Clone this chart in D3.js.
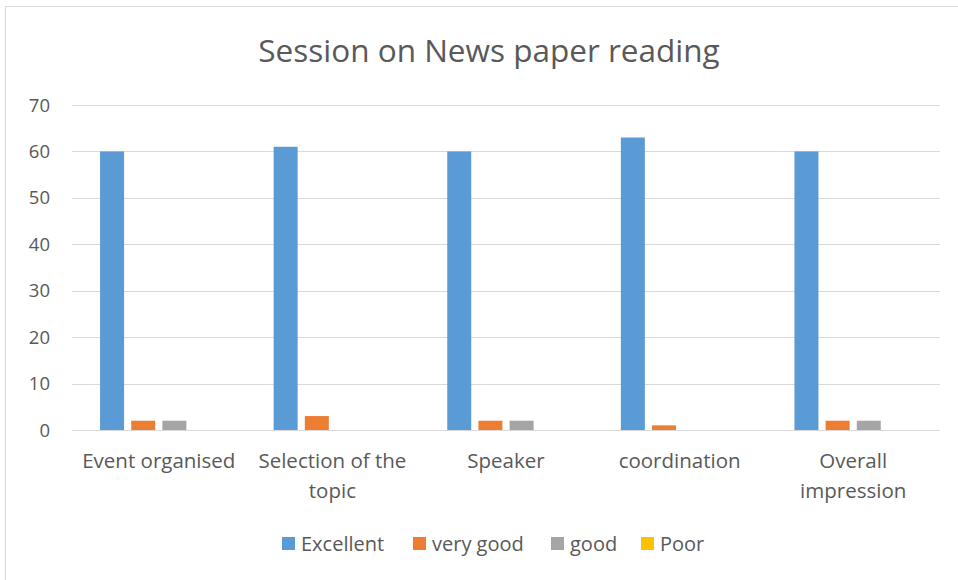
<!DOCTYPE html>
<html>
<head>
<meta charset="utf-8">
<script src="https://cdn.jsdelivr.net/npm/d3@7"></script>
<style>
  body { margin: 0; background: #fff; }
  text { font-family: "Open Sans", "Noto Sans", sans-serif; fill: #595959; }
</style>
</head>
<body>
<div id="chart"></div>
<script>
// Chart data
const categories = [["Event organised"], ["Selection of the", "topic"], ["Speaker"], ["coordination"], ["Overall", "impression"]];
const seriesNames = ["Excellent", "very good", "good", "Poor"];
const seriesColors = ["#5b9bd5", "#ed7d31", "#a5a5a5", "#ffc000"];
const excellent = [60, 61, 60, 63, 60];
const veryGood = [2, 3, 2, 1, 2];
const good = [2, 0, 2, 0, 2];
const poor = [0, 0, 0, 0, 0];
const yTicks = [0, 10, 20, 30, 40, 50, 60, 70];

const seriesValues = [excellent, veryGood, good, poor];

const W = 958, H = 580;
const margin = {top: 105, right: 18, bottom: 150, left: 72};
const width = W - margin.left - margin.right;
const height = H - margin.top - margin.bottom;

const root = d3.select("#chart").append("svg")
	.attr("width", W)
	.attr("height", H);

// Outer chart border
root.append("rect")
	.attr("x", 5.5).attr("y", 6.5)
	.attr("width", 960).attr("height", 580)
	.attr("fill", "none")
	.attr("stroke", "#d9d9d9");

root.append("text")
	.attr("x", 489).attr("y", 62)
	.attr("text-anchor", "middle")
	.style("font-size", "31.5px")
	.text("Session on News paper reading");

const svg = root.append("g")
	.attr("transform", `translate(${margin.left},${margin.top})`);

const x0 = d3.scaleBand()
	.domain(d3.range(categories.length))
	.range([0, width]);

const x1 = d3.scaleBand()
	.domain(d3.range(seriesNames.length))
	.range([0, x0.bandwidth()])
	.paddingInner(0.23)
	.paddingOuter(0.9);

const y = d3.scaleLinear()
	.domain([0, 70])
	.range([height, 0]);

// Gridlines
svg.append("g")
	.selectAll("line")
	.data(yTicks)
	.enter()
	.append("line")
	.attr("x1", 0).attr("x2", width)
	.attr("y1", d => Math.round(y(d)) + 0.5)
	.attr("y2", d => Math.round(y(d)) + 0.5)
	.attr("stroke", "#d9d9d9")
	.attr("stroke-width", 1);

// Y tick labels
svg.append("g")
	.selectAll("text")
	.data(yTicks)
	.enter()
	.append("text")
	.attr("x", -22)
	.attr("y", d => y(d) + 6.5)
	.attr("text-anchor", "end")
	.style("font-size", "18.5px")
	.text(d => d);

// Bars
seriesValues.forEach((vals, si) => {
	svg.append("g")
		.selectAll("rect")
		.data(vals)
		.enter()
		.append("rect")
		.attr("x", (d, i) => x0(i) + x1(si))
		.attr("y", d => y(d))
		.attr("width", x1.bandwidth())
		.attr("height", d => height - y(d))
		.attr("fill", seriesColors[si]);
});

// Category labels
const cat = svg.append("g")
	.selectAll("text")
	.data(categories)
	.enter()
	.append("text")
	.attr("text-anchor", "middle")
	.attr("transform", (d, i) => `translate(${x0(i) + x0.bandwidth() / 2},${height + 38})`)
	.style("font-size", "20.5px");

cat.selectAll("tspan")
	.data(d => d)
	.enter()
	.append("tspan")
	.attr("x", 0)
	.attr("dy", (d, j) => j === 0 ? 0 : 30)
	.text(d => d);

// Legend
const legendX = [282, 413, 551, 641];
const legend = root.append("g");
seriesNames.forEach((name, i) => {
	legend.append("rect")
		.attr("x", legendX[i]).attr("y", 537)
		.attr("width", 13).attr("height", 13)
		.attr("fill", seriesColors[i]);
	legend.append("text")
		.attr("x", legendX[i] + 19).attr("y", 551)
		.style("font-size", "20px")
		.text(name);
});
</script>
</body>
</html>
